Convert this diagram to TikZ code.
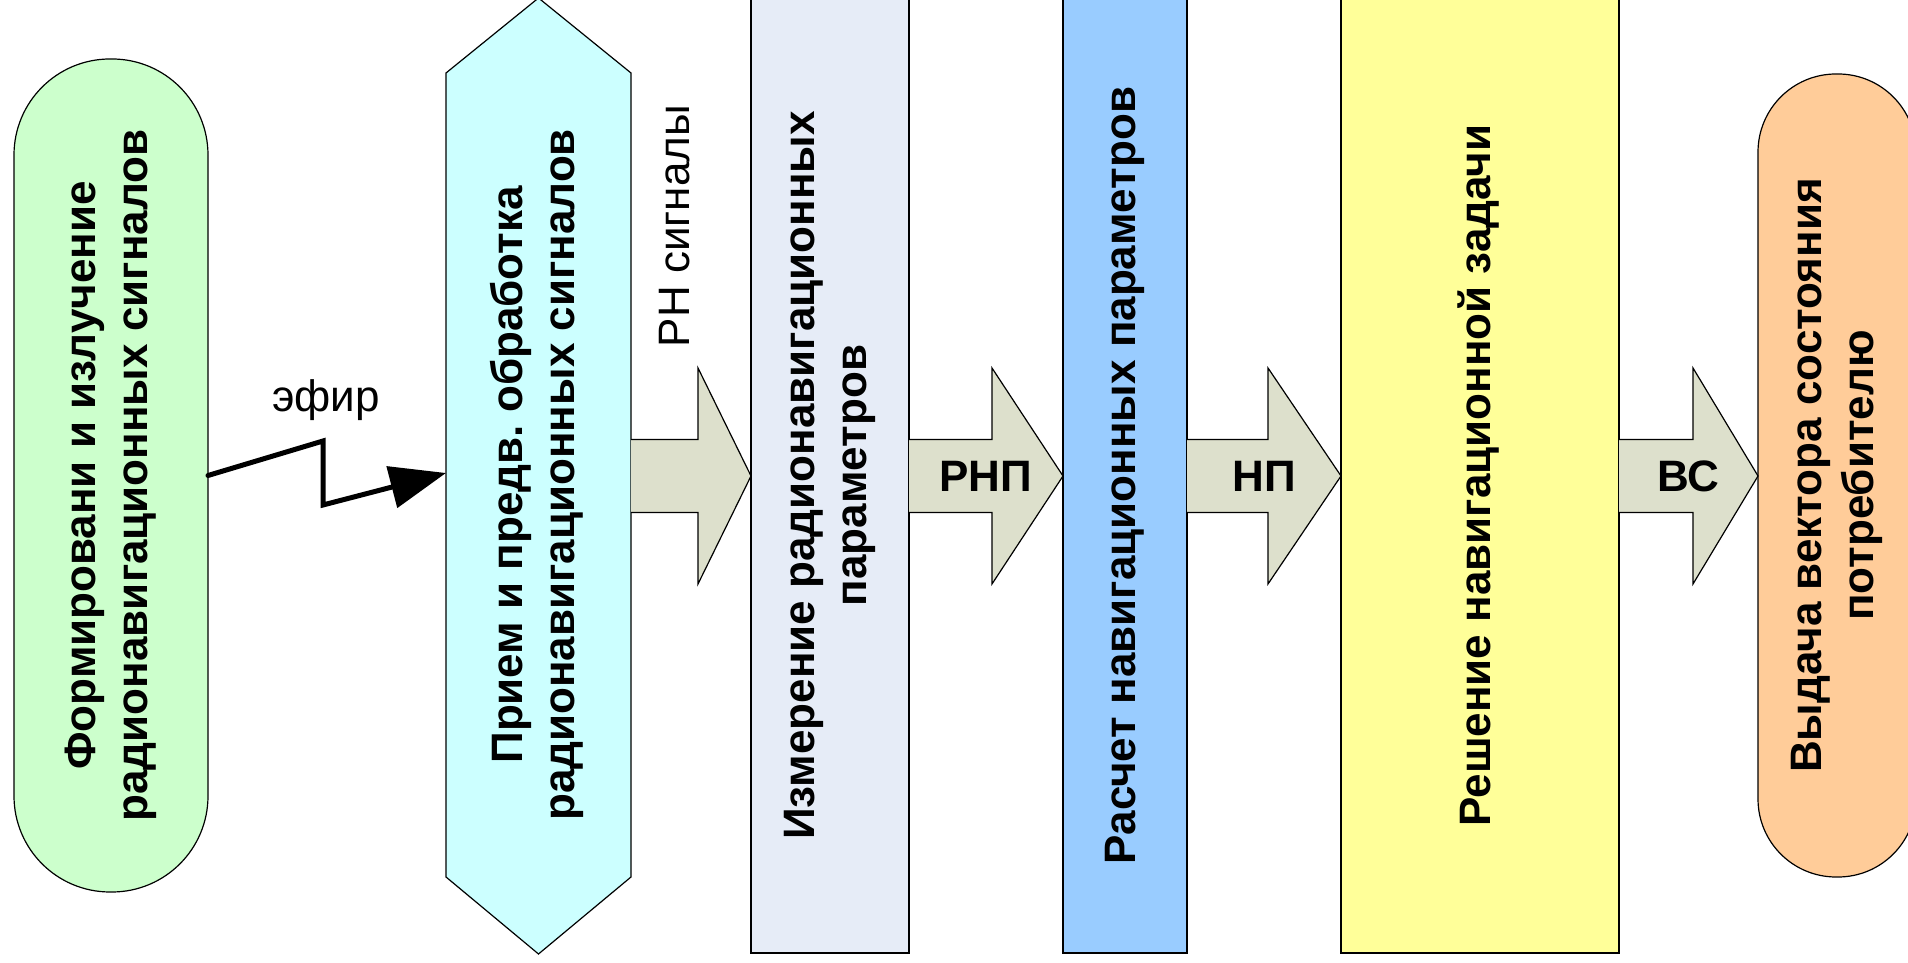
\documentclass[tikz,border=0pt]{standalone}
\usepackage{fontspec}
\setmainfont{Liberation Sans}
\usepackage{graphicx}
\usetikzlibrary{arrows.meta, calc, backgrounds}
\frenchspacing

\definecolor{formgreen}{HTML}{CCFFCC}
\definecolor{recvcyan}{HTML}{CCFFFF}
\definecolor{measblue}{HTML}{E6ECF7}
\definecolor{navblue}{HTML}{99CCFF}
\definecolor{solveyellow}{HTML}{FFFF99}
\definecolor{outorange}{HTML}{FFCC99}
\definecolor{arrowgray}{RGB}{221,224,204}

\tikzset{
  outline/.style={draw=black, line width=1.2pt},
  stage/.style={outline, rectangle, inner sep=0pt, outer sep=0pt,
    font=\bfseries\fontsize{44}{52}\selectfont},
  fatarrow/.style={outline, fill=arrowgray, line join=miter},
  arrowlabel/.style={font=\bfseries\fontsize{44}{52}\selectfont, inner sep=0pt},
  plainlabel/.style={font=\fontsize{44}{52}\selectfont, inner sep=0pt},
  wave/.style={line width=5pt, line join=miter, line cap=round, -{Triangle[length=56pt,width=42pt]}}
}

\newcommand{\vtext}[1]{\rotatebox{90}{\begin{tabular}{@{}c@{}}#1\end{tabular}}}
\newcommand{\fatarrow}[3]{%
  \filldraw[fatarrow] ($(#1.east |- axis)+(0,36.5)$)
    -- ($(#2.west |- axis)+(-#3,36.5)$) -- ($(#2.west |- axis)+(-#3,108)$)
    -- (#2.west |- axis)
    -- ($(#2.west |- axis)+(-#3,-108)$) -- ($(#2.west |- axis)+(-#3,-36.5)$)
    -- ($(#1.east |- axis)+(0,-36.5)$);}

\begin{document}
\begin{tikzpicture}[x=1pt, y=1pt]
        \useasboundingbox (0,0) rectangle (1908,963);
        \coordinate (axis) at (0,487);

        % --- Source (transmitter) ---
        \node[stage, fill=formgreen, rounded corners=96pt, minimum width=194, minimum height=833]
          (form) at (111,487.5) {\vtext{Формировани и излучение\\радионавигационных сигналов}};

        % --- Receiver front end (hexagon drawn behind) ---
        \node[stage, draw=none, minimum width=185, minimum height=804]
          (recv) at (538.5,488) {\vtext{Прием и предв. обработка\\радионавигационных сигналов}};
        \begin{pgfonlayer}{background}
          \filldraw[outline, fill=recvcyan] (recv.north west) -- ([yshift=75pt]recv.north)
            -- (recv.north east) -- (recv.south east) -- ([yshift=-77pt]recv.south)
            -- (recv.south west) -- cycle;
        \end{pgfonlayer}

        % --- Processing stages ---
        \node[stage, fill=measblue, minimum width=158, minimum height=955]
          (meas) at (830,487.5) {\vtext{Измерение радионавигационных\\параметров}};
        \node[stage, fill=navblue, minimum width=124, minimum height=955]
          (navcalc) at (1125,487.5) {\vtext{Расчет навигационных параметров}};
        \node[stage, fill=solveyellow, minimum width=278, minimum height=955]
          (solve) at (1480,487.5) {\vtext{Решение навигационной задачи}};

        % --- Output ---
        \node[stage, fill=outorange, rounded corners=78pt, minimum width=158, minimum height=803]
          (out) at (1837,487.5) {\vtext{Выдача вектора состояния\\потребителю}};

        % --- Radio link ---
        \coordinate (kinkup) at (323,522);
        \coordinate (kinkdown) at (323,458);
        \draw[wave] (form.east) -- (kinkup) -- (kinkdown) -- ([yshift=2pt]recv.west);
        \node[plainlabel] (ether) at (326,563) {эфир};

        % --- Data flow arrows ---
        \fatarrow{recv}{meas}{53}
        \fatarrow{meas}{navcalc}{71}
        \fatarrow{navcalc}{solve}{73}
        \fatarrow{solve}{out}{65}

        \node[plainlabel, rotate=90] (rnsig) at (675,737) {РН сигналы};
        \node[arrowlabel] (rnp) at ($(meas.east |- axis)!0.5!(navcalc.west |- axis)$) {РНП};
        \node[arrowlabel] (np) at ($(navcalc.east |- axis)!0.5!(solve.west |- axis)$) {НП};
        \node[arrowlabel] (vs) at ($(solve.east |- axis)!0.5!(out.west |- axis)$) {ВС};
    \end{tikzpicture}
\end{document}
